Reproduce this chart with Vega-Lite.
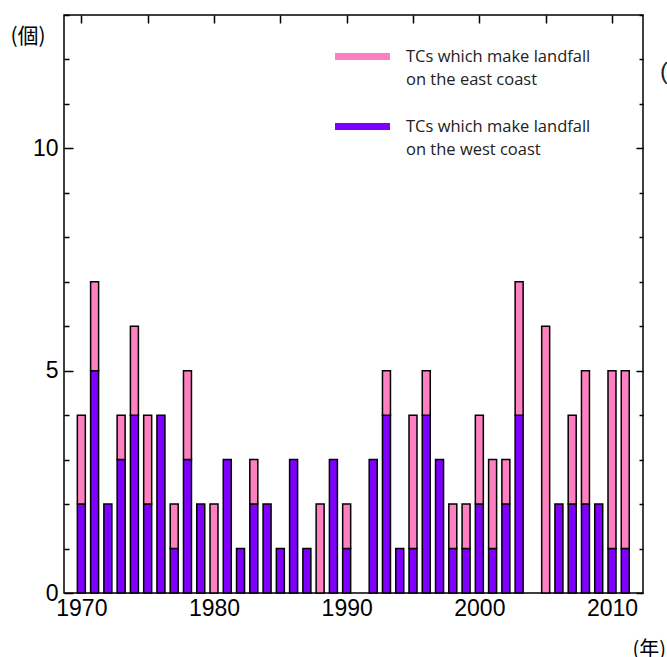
{
  "$schema": "https://vega.github.io/schema/vega-lite/v6.json",
  "width": 579,
  "height": 578,
  "autosize": "none",
  "padding": {"left": 64, "top": 15, "right": 24, "bottom": 64},
  "background": "white",
  "title": {"text": "(", "frame": "group", "anchor": "end", "align": "left", "dx": 17, "dy": 70, "offset": 0, "font": "Liberation Sans", "fontSize": 24, "fontWeight": "normal", "color": "#222"},
  "config": {
    "view": {"stroke": "black", "strokeWidth": 1.5},
    "style": {"guide-label": {"lineHeight": 23}},
    "axis": {"grid": false, "domain": false, "labelFont": "Liberation Sans", "labelColor": "#000", "tickColor": "#000", "tickWidth": 1.5, "titleColor": "#000"}
  },
  "data": {
    "values": [
      {"year": 1970, "coast": "west coast", "count": 2}, {"year": 1970, "coast": "east coast", "count": 2},
      {"year": 1971, "coast": "west coast", "count": 5}, {"year": 1971, "coast": "east coast", "count": 2},
      {"year": 1972, "coast": "west coast", "count": 2},
      {"year": 1973, "coast": "west coast", "count": 3}, {"year": 1973, "coast": "east coast", "count": 1},
      {"year": 1974, "coast": "west coast", "count": 4}, {"year": 1974, "coast": "east coast", "count": 2},
      {"year": 1975, "coast": "west coast", "count": 2}, {"year": 1975, "coast": "east coast", "count": 2},
      {"year": 1976, "coast": "west coast", "count": 4},
      {"year": 1977, "coast": "west coast", "count": 1}, {"year": 1977, "coast": "east coast", "count": 1},
      {"year": 1978, "coast": "west coast", "count": 3}, {"year": 1978, "coast": "east coast", "count": 2},
      {"year": 1979, "coast": "west coast", "count": 2},
      {"year": 1980, "coast": "east coast", "count": 2},
      {"year": 1981, "coast": "west coast", "count": 3},
      {"year": 1982, "coast": "west coast", "count": 1},
      {"year": 1983, "coast": "west coast", "count": 2}, {"year": 1983, "coast": "east coast", "count": 1},
      {"year": 1984, "coast": "west coast", "count": 2},
      {"year": 1985, "coast": "west coast", "count": 1},
      {"year": 1986, "coast": "west coast", "count": 3},
      {"year": 1987, "coast": "west coast", "count": 1},
      {"year": 1988, "coast": "east coast", "count": 2},
      {"year": 1989, "coast": "west coast", "count": 3},
      {"year": 1990, "coast": "west coast", "count": 1}, {"year": 1990, "coast": "east coast", "count": 1},
      {"year": 1992, "coast": "west coast", "count": 3},
      {"year": 1993, "coast": "west coast", "count": 4}, {"year": 1993, "coast": "east coast", "count": 1},
      {"year": 1994, "coast": "west coast", "count": 1},
      {"year": 1995, "coast": "west coast", "count": 1}, {"year": 1995, "coast": "east coast", "count": 3},
      {"year": 1996, "coast": "west coast", "count": 4}, {"year": 1996, "coast": "east coast", "count": 1},
      {"year": 1997, "coast": "west coast", "count": 3},
      {"year": 1998, "coast": "west coast", "count": 1}, {"year": 1998, "coast": "east coast", "count": 1},
      {"year": 1999, "coast": "west coast", "count": 1}, {"year": 1999, "coast": "east coast", "count": 1},
      {"year": 2000, "coast": "west coast", "count": 2}, {"year": 2000, "coast": "east coast", "count": 2},
      {"year": 2001, "coast": "west coast", "count": 1}, {"year": 2001, "coast": "east coast", "count": 2},
      {"year": 2002, "coast": "west coast", "count": 2}, {"year": 2002, "coast": "east coast", "count": 1},
      {"year": 2003, "coast": "west coast", "count": 4}, {"year": 2003, "coast": "east coast", "count": 3},
      {"year": 2005, "coast": "east coast", "count": 6},
      {"year": 2006, "coast": "west coast", "count": 2},
      {"year": 2007, "coast": "west coast", "count": 2}, {"year": 2007, "coast": "east coast", "count": 2},
      {"year": 2008, "coast": "west coast", "count": 2}, {"year": 2008, "coast": "east coast", "count": 3},
      {"year": 2009, "coast": "west coast", "count": 2},
      {"year": 2010, "coast": "west coast", "count": 1}, {"year": 2010, "coast": "east coast", "count": 4},
      {"year": 2011, "coast": "west coast", "count": 1}, {"year": 2011, "coast": "east coast", "count": 4}
    ]
  },
  "layer": [
    {
      "mark": {"type": "bar", "width": 8, "stroke": "black", "strokeWidth": 1.5},
      "encoding": {
        "x": {
          "field": "year", "type": "quantitative",
          "scale": {"domain": [1969.07, 2011.96], "nice": false, "zero": false},
          "axis": {
            "orient": "bottom", "values": [1970, 1980, 1990, 2000, 2010], "format": "d",
            "ticks": false, "labelFontSize": 23, "labelPadding": 4,
            "title": "(年)", "titleAngle": 0, "titleX": 568, "titleY": 62, "titleAlign": "left",
            "titleBaseline": "alphabetic", "titleFont": "Noto Sans CJK JP", "titleFontSize": 20, "titleFontWeight": "normal"
          }
        },
        "y": {
          "field": "count", "type": "quantitative", "stack": "zero",
          "scale": {"domain": [0, 13], "nice": false},
          "axis": {
            "orient": "left", "values": [0, 1, 2, 3, 4, 5, 6, 7, 8, 9, 10, 11, 12, 13],
            "labelExpr": "datum.value % 5 === 0 ? datum.label : ''",
            "tickSize": {"condition": {"test": "datum.value % 5 === 0", "value": -9}, "value": -5},
            "labelPadding": 15, "labelFontSize": 23,
            "title": "(個)", "titleAngle": 0, "titleX": -54, "titleY": 27, "titleAlign": "left",
            "titleBaseline": "alphabetic", "titleFont": "Noto Sans CJK JP", "titleFontSize": 21, "titleFontWeight": "normal"
          }
        },
        "color": {
          "field": "coast", "type": "nominal",
          "scale": {"domain": ["east coast", "west coast"], "range": ["#ff80c0", "#7f00ff"]},
          "legend": {
            "orient": "none", "legendX": 271, "legendY": 14, "title": null, "padding": 0,
            "symbolType": "M-1,-0.13H1V0.13H-1Z", "symbolSize": 3025, "symbolStrokeWidth": 0, "symbolOpacity": 1,
            "labelExpr": "['TCs which make landfall', 'on the ' + datum.label]",
            "labelFont": "Open Sans", "labelFontSize": 16.5, "labelColor": "#222", "labelOffset": 16, "labelLimit": 400,
            "rowPadding": 11,
            "encode": {"labels": {"update": {"lineHeight": {"value": 23}, "dy": {"value": -2}}}}
          }
        },
        "order": {"field": "coast", "sort": "descending"}
      }
    },
    {
      "mark": {"type": "point", "opacity": 0},
      "encoding": {
        "x": {
          "field": "year", "type": "quantitative",
          "axis": {"orient": "top", "values": [1970, 1975, 1980, 1985, 1990, 1995, 2000, 2005, 2010], "labels": false, "tickSize": -8, "title": null}
        },
        "y": {
          "field": "count", "type": "quantitative",
          "axis": {
            "orient": "right", "values": [0, 1, 2, 3, 4, 5, 6, 7, 8, 9, 10, 11, 12, 13], "labels": false,
            "tickSize": {"condition": {"test": "datum.value % 5 === 0", "value": -7}, "value": -4},
            "title": null
          }
        }
      }
    }
  ],
  "resolve": {"axis": {"x": "independent", "y": "independent"}}
}
